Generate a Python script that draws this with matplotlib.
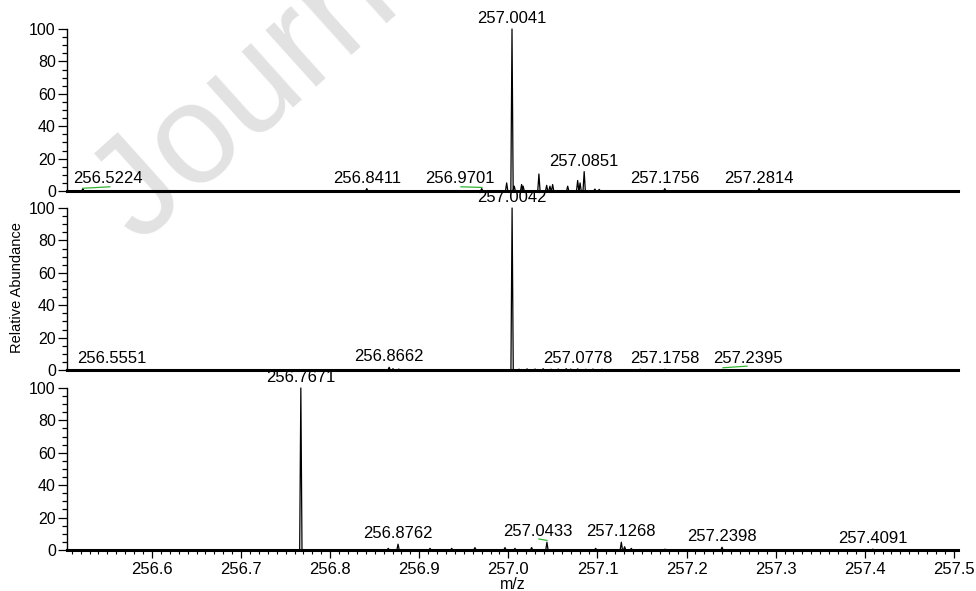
import matplotlib.pyplot as plt
from matplotlib.ticker import MultipleLocator, FormatStrFormatter

plt.rcParams["font.family"] = ["Liberation Sans", "DejaVu Sans"]

# scan 1 (top)
mz_a = [256.5224, 256.8411, 256.9701, 256.9981, 257.0041, 257.0066, 257.0149, 257.0166,
        257.0343, 257.0430, 257.0467, 257.0497, 257.0666, 257.0778, 257.0805, 257.0851,
        257.0971, 257.1020, 257.1756, 257.2814]
ab_a = [1.5, 1.5, 1.5, 5.0, 100.0, 3.0, 4.0, 3.0,
        10.5, 3.5, 3.0, 4.0, 3.0, 6.5, 5.0, 12.0,
        1.2, 1.0, 1.5, 1.5]
lab_a = [256.5224, 256.8411, 256.9701, 257.0041, 257.0851, 257.1756, 257.2814]

# scan 2 (middle)
mz_b = [256.5551, 256.8662, 256.8705, 256.8770, 257.0042, 257.0120, 257.0210, 257.0300,
        257.0390, 257.0480, 257.0560, 257.0650, 257.0700, 257.0778, 257.0870, 257.0950,
        257.1050, 257.1480, 257.1758, 257.2395]
ab_b = [0.3, 1.7, 0.8, 0.6, 100.0, 0.5, 0.7, 0.6,
        0.8, 0.5, 0.6, 0.8, 0.6, 0.7, 0.5, 0.6,
        0.5, 0.5, 0.5, 0.3]
lab_b = [256.5551, 256.8662, 257.0042, 257.0778, 257.1758, 257.2395]

# scan 3 (bottom)
mz_c = [256.7671, 256.8652, 256.8762, 256.9121, 256.9364, 256.9625, 256.9962, 257.0074,
        257.0261, 257.0433, 257.0980, 257.1268, 257.1305, 257.1380, 257.1758, 257.2398,
        257.4091]
ab_c = [100.0, 1.0, 3.6, 1.0, 1.0, 1.5, 1.5, 1.0,
        1.5, 4.8, 1.0, 4.8, 2.0, 1.0, 0.5, 1.7,
        0.5]
lab_c = [256.7671, 256.8762, 257.0433, 257.1268, 257.2398, 257.4091]

# green noise markers: (mz start, mz end, level start, level end)
noise_a = [(256.5224, 256.5527, 1.7, 2.6), (256.9468, 256.9704, 2.6, 2.2)]
noise_b = [(257.2409, 257.2678, 1.4, 2.4)]
noise_c = [(257.0343, 257.0433, 6.8, 5.9)]

# label nudges in points for crowded labels
shift = {256.5224: 18, 256.9701: -16, 257.2395: 19, 257.0433: -6.5}

XMIN, XMAX = 256.5046, 257.5046
HW = 0.0013  # half width of the drawn peak profile


def draw_scan(ax, mz, ab, labels, noise):
    xs, ys = [], []
    for m, a in zip(mz, ab):
        xs += [m - HW, m, m + HW]
        ys += [0, a, 0]
    ax.plot(xs, ys, color="black", lw=0.9, clip_on=False)
    for m0, m1, y0, y1 in noise:
        ax.plot([m0, m1], [y0, y1], color="#33b333", lw=0.9, clip_on=False)
    for m in labels:
        a = ab[mz.index(m)]
        ax.annotate(f"{m:.4f}", xy=(m, a), xytext=(shift.get(m, 0), 2.2),
                    textcoords="offset points", ha="center", va="bottom",
                    fontsize=12, annotation_clip=False)
    ax.set_xlim(XMIN, XMAX)
    ax.set_ylim(0, 100)
    ax.set_facecolor("none")
    for s in ("top", "right"):
        ax.spines[s].set_visible(False)
    ax.spines["left"].set_linewidth(1.0)
    ax.spines["bottom"].set_linewidth(2.2)
    ax.set_yticks(range(0, 101, 20))
    ax.yaxis.set_minor_locator(MultipleLocator(5))
    ax.tick_params(axis="y", which="major", length=6.5, width=0.9, labelsize=11.5, pad=1.5)
    ax.tick_params(axis="y", which="minor", length=3.6, width=0.9)


fig = plt.figure(figsize=(9.76, 5.91), dpi=100)
fig.text(0.143, 0.585, "Journal Pre-proof", rotation=42, fontsize=102,
         color="#e2e2e2", ha="left", va="baseline", rotation_mode="anchor", zorder=-1)

left, width, height = 0.0686, 0.9129, 0.2741
ax1 = fig.add_axes([left, 0.6768, width, height])
ax2 = fig.add_axes([left, 0.3739, width, height])
ax3 = fig.add_axes([left, 0.0694, width, height])

draw_scan(ax1, mz_a, ab_a, lab_a, noise_a)
draw_scan(ax2, mz_b, ab_b, lab_b, noise_b)
draw_scan(ax3, mz_c, ab_c, lab_c, noise_c)

for ax in (ax1, ax2):
    ax.tick_params(axis="x", which="both", bottom=False, labelbottom=False)

ax3.xaxis.set_major_locator(MultipleLocator(0.1))
ax3.xaxis.set_minor_locator(MultipleLocator(0.01))
ax3.xaxis.set_major_formatter(FormatStrFormatter("%.1f"))
ax3.tick_params(axis="x", which="major", length=6, width=0.9, labelsize=12, pad=3)
ax3.tick_params(axis="x", which="minor", length=3, width=0.8)
ax3.set_xlabel("m/z", fontsize=11.5, labelpad=0)

fig.text(17 / 976, 1 - 288 / 591, "Relative Abundance", rotation=90,
         ha="center", va="center", fontsize=10.5)

fig.savefig("out.png", dpi=100)
